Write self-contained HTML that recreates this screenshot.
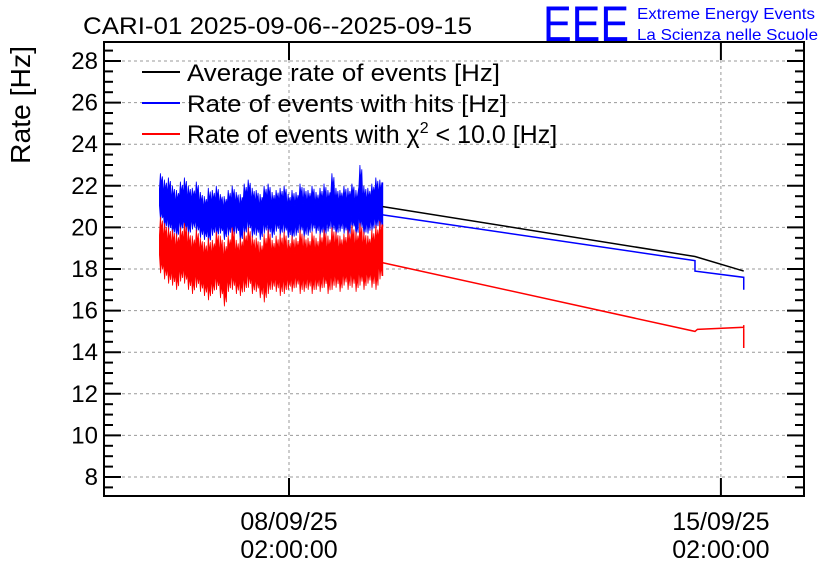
<!DOCTYPE html>
<html><head><meta charset="utf-8"><style>
body{margin:0;background:#fff;}
svg text{font-family:"Liberation Sans",sans-serif;}
</style></head><body>
<svg id="c" width="836" height="572" xmlns="http://www.w3.org/2000/svg">
<rect width="836" height="572" fill="#fff"/>
<text x="83" y="34" font-size="24" textLength="389" lengthAdjust="spacingAndGlyphs">CARI-01 2025-09-06--2025-09-15</text>
<g>
<text x="543" y="41" font-size="50" fill="#0000ff" textLength="86" lengthAdjust="spacingAndGlyphs">EEE</text>
<text x="637" y="19" font-size="16" fill="#0000ff" textLength="178" lengthAdjust="spacingAndGlyphs">Extreme Energy Events</text>
<text x="637" y="40" font-size="16" fill="#0000ff" textLength="181" lengthAdjust="spacingAndGlyphs">La Scienza nelle Scuole</text>
</g>
<text transform="translate(30,105) rotate(-90)" text-anchor="middle" font-size="28" textLength="118" lengthAdjust="spacingAndGlyphs">Rate [Hz]</text>
<g id="grid"></g><g id="marks"></g><g id="axes"></g>
<g font-size="24">
<line x1="142" y1="72" x2="180" y2="72" stroke="#000" stroke-width="2"/>
<text x="187" y="81" textLength="313" lengthAdjust="spacingAndGlyphs">Average rate of events [Hz]</text>
<line x1="142" y1="103" x2="180" y2="103" stroke="#0000ff" stroke-width="2"/>
<text x="187" y="112" textLength="320" lengthAdjust="spacingAndGlyphs">Rate of events with hits [Hz]</text>
<line x1="142" y1="134" x2="180" y2="134" stroke="#ff0000" stroke-width="2"/>
<text x="187" y="143" font-size="25">Rate of events with χ<tspan font-size="16" dy="-10">2</tspan><tspan dy="10"> &lt; 10.0 [Hz]</tspan></text>
</g>
</svg>
<script>
// time in days relative to 08/09/25 02:00:00
const xTickDays=[0,7];
const xTickLine1=["08/09/25","15/09/25"];
const xTickLine2=["02:00:00","02:00:00"];
const yTicks=[8,10,12,14,16,18,20,22,24,26,28];
const noisyStart=-2.1, noisyEnd=1.52;
const blueMax=[22.6,22.3,22.4,22.0,21.8,22.2,22.4,22.0,21.9,22.2,21.7,21.5,21.9,21.8,22.0,21.6,21.5,21.8,22.0,21.7,21.6,22.1,22.3,21.9,21.8,21.6,22.0,22.1,21.7,21.8,21.9,22.0,21.6,21.8,21.7,22.1,21.9,21.8,22.0,21.7,21.9,22.1,21.8,22.6,21.9,21.8,22.0,21.9,22.1,21.8,23.0,22.0,21.9,22.1,22.4,22.3];
const blueMin=[20.3,19.9,19.8,19.6,19.5,19.8,19.7,19.6,19.9,19.7,19.5,19.4,19.2,19.6,19.5,19.7,19.4,19.6,19.5,19.7,19.3,19.6,19.8,19.5,19.6,19.4,19.7,19.6,19.5,19.8,19.6,19.7,19.5,19.4,19.6,19.7,19.5,19.6,19.8,19.7,19.6,19.5,19.8,19.7,19.6,19.8,19.7,19.5,19.9,19.6,19.8,19.6,19.7,19.8,19.9,19.9];
const redMax=[20.5,20.2,20.0,19.9,19.7,20.0,20.2,19.8,19.6,19.9,19.5,19.3,19.5,19.4,19.8,19.6,19.3,19.6,20.0,19.4,19.5,19.8,20.0,19.6,19.5,19.3,19.7,19.9,19.4,19.6,19.7,19.8,19.4,19.6,19.5,19.9,19.6,19.5,19.8,19.5,19.7,19.9,19.6,20.0,19.8,19.6,19.7,19.9,20.1,19.8,20.2,19.8,19.6,19.9,20.1,20.3];
const redMin=[17.8,17.5,17.3,17.2,17.0,17.4,17.3,17.0,16.8,17.1,16.9,16.7,16.5,16.8,17.0,16.6,16.2,16.9,17.0,16.8,16.7,16.9,17.1,16.8,16.9,16.6,16.4,16.8,17.0,16.9,16.7,16.8,17.0,16.9,17.1,16.8,16.9,17.0,16.8,17.0,16.9,17.1,16.8,17.0,17.1,16.9,17.2,17.0,17.1,16.9,17.2,17.0,17.3,17.1,17.0,17.5];
const blackTailT=[1.52,6.58,7.37];
const blackTailV=[21.0,18.6,17.9];
const blueTailT=[1.52,6.58,6.58,7.37,7.37];
const blueTailV=[20.6,18.4,17.9,17.6,17.0];
const redTailT=[1.52,6.58,6.62,7.37,7.37,7.37];
const redTailV=[18.3,15.0,15.1,15.2,15.3,14.2];

const L=104,R=804,T=42,B=496;
const X=d=>289+d*61.7;
const Y=v=>477-(v-8)*20.8;
const NS="http://www.w3.org/2000/svg";
function mk(tag,attrs,parent){const e=document.createElementNS(NS,tag);for(const k in attrs)e.setAttribute(k,attrs[k]);parent.appendChild(e);return e;}
const grid=document.getElementById('grid'),marks=document.getElementById('marks'),axes=document.getElementById('axes');
yTicks.forEach(v=>{const g=mk('line',{x1:L,x2:R,y1:Y(v),y2:Y(v),stroke:'#999','stroke-dasharray':'3,3'},grid);

});
xTickDays.forEach(d=>{const g=mk('line',{x1:X(d),x2:X(d),y1:T,y2:B,stroke:'#999','stroke-dasharray':'3,3'},grid);

});
function band(maxA,minA,col,name){
 const n=maxA.length,w=(X(noisyEnd)-X(noisyStart))/n,x0=X(noisyStart);
 const top=[],bot=[];
 for(let i=0;i<n;i++){
  const core=(maxA[i]+minA[i])/2;
  const hiDip=core+(maxA[i]-core)*0.35, loDip=core-(core-minA[i])*0.35;
  top.push([x0+i*w,Y(hiDip)],[x0+i*w+w*0.25,Y(maxA[i])],[x0+i*w+w*0.5,Y(hiDip+(maxA[i]-hiDip)*0.3)],[x0+i*w+w*0.75,Y(maxA[i]-(maxA[i]-hiDip)*0.2)]);
  bot.push([x0+i*w,Y(loDip)],[x0+i*w+w*0.3,Y(minA[i])],[x0+i*w+w*0.55,Y(loDip-(loDip-minA[i])*0.3)],[x0+i*w+w*0.8,Y(minA[i]+(loDip-minA[i])*0.2)]);
 }
 top.push([x0+n*w,top[top.length-1][1]]);bot.push([x0+n*w,bot[bot.length-1][1]]);
 const pts=top.concat(bot.reverse()).map(p=>p[0].toFixed(1)+','+p[1].toFixed(1)).join(' ');
 const p=mk('polygon',{points:pts,fill:col,stroke:col,'stroke-width':0.8},marks);
 
 
}
band(blueMax,blueMin,'#0000ff','hits-rate-band');
band(redMax,redMin,'#ff0000','chi2-rate-band');
function poly(ts,vs,col,name){const p=mk('polyline',{points:ts.map((t,i)=>X(t)+','+Y(vs[i])).join(' '),fill:'none',stroke:col,'stroke-width':1.5},marks);

}
poly(blackTailT,blackTailV,'#000','average-rate-line');
poly(blueTailT,blueTailV,'#0000ff','hits-rate-line');
poly(redTailT,redTailV,'#ff0000','chi2-rate-line');
const fr=mk('rect',{x:L,y:T,width:R-L,height:B-T,fill:'none',stroke:'#000','stroke-width':2},axes);


for(let v=7.5;v<=28.75;v+=0.5){const maj=(v%2===0);const len=maj?17:9;
 mk('line',{x1:L,x2:L+len,y1:Y(v),y2:Y(v),stroke:'#000','stroke-width':2},axes);
 mk('line',{x1:R-len,x2:R,y1:Y(v),y2:Y(v),stroke:'#000','stroke-width':2},axes);}
yTicks.forEach(v=>{const t=mk('text',{x:L-6,y:Y(v)+8,'text-anchor':'end','font-size':24},axes);t.textContent=v;

});
xTickDays.forEach((d,i)=>{
 mk('line',{x1:X(d),x2:X(d),y1:B,y2:B-18,stroke:'#000','stroke-width':2},axes);
 mk('line',{x1:X(d),x2:X(d),y1:T,y2:T+18,stroke:'#000','stroke-width':2},axes);
 const t1=mk('text',{x:X(d),y:530,'text-anchor':'middle','font-size':25},axes);t1.textContent=xTickLine1[i];
 
 
 const t2=mk('text',{x:X(d),y:558,'text-anchor':'middle','font-size':25},axes);t2.textContent=xTickLine2[i];
 
 
});
</script>
</body></html>
